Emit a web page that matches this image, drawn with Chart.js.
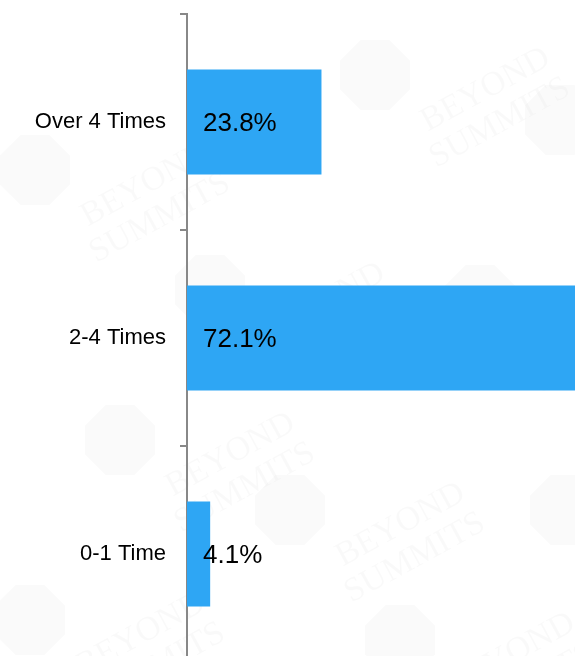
<!DOCTYPE html>
<html>
<head>
<meta charset="utf-8">
<script src="https://cdn.jsdelivr.net/npm/chart.js@4"></script>
<style>
  html, body { margin: 0; padding: 0; background: #fff; overflow: hidden; }
  #wrap { width: 752px; height: 662px; }
</style>
</head>
<body>
<div id="wrap"><canvas id="canvas" width="752" height="662"></canvas></div>
<script>
var categories = ['Over 4 Times', '2-4 Times', '0-1 Time'];
var shares = [23.8, 72.1, 4.1];

var ctx = document.getElementById('canvas').getContext('2d');

// faint tiled logo + brand text behind the chart
var watermark = {
  id: 'watermark',
  beforeDraw: function (chart) {
    var c = chart.ctx;
    var spots = [[375, 75], [35, 170], [560, 120], [210, 290], [480, 300], [120, 440], [290, 510], [565, 510], [400, 640], [30, 620]];
    c.save();
    spots.forEach(function (p) {
      c.fillStyle = 'rgba(0,0,0,0.018)';
      c.beginPath();
      for (var k = 0; k < 8; k++) {
        var a = Math.PI / 8 + k * Math.PI / 4;
        var px = p[0] + Math.cos(a) * 38, py = p[1] + Math.sin(a) * 38;
        if (k === 0) c.moveTo(px, py); else c.lineTo(px, py);
      }
      c.closePath();
      c.fill();
      c.save();
      c.translate(p[0] + 40, p[1] + 75);
      c.rotate(-0.5);
      c.fillStyle = 'rgba(0,0,0,0.025)';
      c.font = '34px "Liberation Serif", serif';
      c.fillText('BEYOND', 20, -10);
      c.fillText('SUMMITS', 10, 26);
      c.restore();
    });
    c.restore();
  }
};

// percentage text inside each bar, near its base
var valueLabels = {
  id: 'valueLabels',
  afterDatasetsDraw: function (chart) {
    var c = chart.ctx;
    var x0 = chart.scales.x.getPixelForValue(0);
    c.save();
    c.font = '26px "Liberation Sans", Arial, sans-serif';
    c.fillStyle = '#000';
    c.textAlign = 'left';
    c.textBaseline = 'middle';
    chart.getDatasetMeta(0).data.forEach(function (bar, i) {
      c.fillText(shares[i].toFixed(1) + '%', x0 + 16, bar.y + 2);
    });
    c.restore();
  }
};

var myChart = new Chart(ctx, {
  type: 'bar',
  data: {
    labels: categories,
    datasets: [{
      data: shares,
      backgroundColor: '#2ea6f4',
      borderWidth: 0,
      categoryPercentage: 1,
      barPercentage: 0.485
    }]
  },
  options: {
    indexAxis: 'y',
    responsive: false,
    animation: false,
    layout: { padding: { top: 14 } },
    plugins: {
      legend: { display: false },
      tooltip: { enabled: false }
    },
    scales: {
      x: {
        display: false,
        min: 0,
        max: 100
      },
      y: {
        afterFit: function (scale) {
          scale.width = 187;
          scale.paddingTop = 0;
          scale.paddingBottom = 0;
        },
        border: { color: '#888', width: 2 },
        grid: {
          offset: true,
          drawOnChartArea: false,
          drawTicks: true,
          tickLength: 7,
          color: '#888',
          lineWidth: 2
        },
        ticks: {
          padding: 14,
          color: '#000',
          font: { family: '"Liberation Sans", Arial, sans-serif', size: 22 }
        }
      }
    }
  },
  plugins: [watermark, valueLabels]
});
</script>
</body>
</html>
